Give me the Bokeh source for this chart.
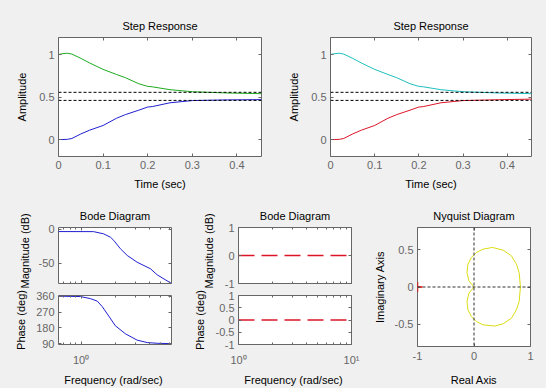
from bokeh.plotting import figure
from bokeh.models import (Range1d, FixedTicker, LinearAxis, LogAxis, Span, Title,
                          CustomJSTickFormatter, CustomLabelingPolicy)
from bokeh.layouts import row, column
from bokeh.embed import file_html
from bokeh.resources import INLINE

# ---------------- data ----------------
step_time = [0, 0.01, 0.02, 0.03, 0.05, 0.07, 0.1, 0.13, 0.15, 0.18, 0.2, 0.21, 0.25, 0.3, 0.38, 0.455]
step_green = [1.0, 1.01, 1.015, 1.005, 0.955, 0.90, 0.825, 0.765, 0.727, 0.656, 0.625, 0.62, 0.586, 0.562, 0.547, 0.539]
step_blue = [0.0, 0.0, 0.002, 0.012, 0.065, 0.11, 0.165, 0.25, 0.293, 0.345, 0.382, 0.387, 0.432, 0.458, 0.466, 0.469]
step_cyan = [1.0, 1.01, 1.015, 1.005, 0.955, 0.90, 0.825, 0.765, 0.727, 0.656, 0.625, 0.62, 0.586, 0.562, 0.547, 0.539]
step_red = [0.0, 0.0, 0.002, 0.012, 0.065, 0.11, 0.165, 0.25, 0.293, 0.345, 0.382, 0.387, 0.432, 0.458, 0.468, 0.475]
ss_upper = 0.555
ss_lower = 0.46
step_xticks = [0, 0.1, 0.2, 0.3, 0.4]
step_xlabels = ["0", "0.1", "0.2", "0.3", "0.4"]
step_yticks = [0, 0.5, 1]
step_ylabels = ["0", "0.5", "1"]

bode1_freq_mag = [0.631, 1.29, 1.58, 1.82, 1.95, 2.23, 2.56, 3.13, 4.11, 4.71, 6.31]
bode1_mag = [-3.5, -3.6, -6.8, -11.8, -16.7, -28.9, -38.7, -48.6, -58.3, -67.2, -80.0]
bode1_freq_phase = [0.631, 0.99, 1.21, 1.39, 1.54, 1.76, 2.01, 2.47, 3.13, 3.85, 4.71, 6.18, 6.31]
bode1_phase = [361, 359, 347, 333, 301, 247, 192, 146, 110, 96, 92, 90, 90]
bode1_xticks = [1]
bode1_xlabels = ["10\u2070"]
bode1_xminor = [0.7, 0.8, 0.9, 2, 3, 4, 5, 6]
bode1_magticks = [-50, 0]
bode1_maglabels = ["-50", "0"]
bode1_phaseticks = [90, 180, 270, 360]
bode1_phaselabels = ["90", "180", "270", "360"]

bode2_freq = [1, 10]
bode2_mag = [0, 0]
bode2_phase = [0, 0]
bode2_xticks = [1, 10]
bode2_xlabels = ["10\u2070", "10\u00b9"]
bode2_xminor = [2, 3, 4, 5, 6, 7, 8, 9]
bode2_magticks = [-1, 0, 1]
bode2_maglabels = ["-1", "0", "1"]
bode2_phaseticks = [-1, -0.5, 0, 0.5, 1]
bode2_phaselabels = ["-1", "-0.5", "0", "0.5", "1"]

nyq_real = [0.0, -0.089, -0.124, -0.107, -0.047, 0.041, 0.160, 0.325, 0.515, 0.663, 0.751, 0.799, 0.822,
            0.799, 0.751, 0.663, 0.515, 0.367, 0.160, 0.041, -0.047, -0.107, -0.124, -0.089, 0.0]
nyq_imag = [0.0, 0.081, 0.194, 0.306, 0.396, 0.464, 0.509, 0.532, 0.495, 0.419, 0.306, 0.194, 0.0,
            -0.194, -0.306, -0.419, -0.495, -0.525, -0.509, -0.464, -0.396, -0.306, -0.194, -0.081, 0.0]
crit_real = [-1]
crit_imag = [0]
nyq_xticks = [-1, 0, 1]
nyq_xlabels = ["-1", "0", "1"]
nyq_yticks = [-0.5, 0, 0.5]
nyq_ylabels = ["-0.5", "0", "0.5"]

# ---------------- style ----------------
BG = "#f0f0f0"
GREY = "#666666"
FONT = "Liberation Sans"
FS = "11px"


def fmt(tick_values, tick_labels):
    return CustomJSTickFormatter(args=dict(tvals=tick_values, tlabs=tick_labels),
                                 code="const i = tvals.indexOf(tick); return i >= 0 ? tlabs[i] : '';")


NO_LABELS = CustomLabelingPolicy(code="for (let i = 0; i < indices.size; i++) { indices.unset(i); } return indices;")
EMPTY_FMT = CustomJSTickFormatter(code="return '';")


def style_axis(ax, show_labels, standoff=4):
    ax.axis_line_color = None
    ax.major_tick_line_color = GREY
    ax.major_tick_in = 3
    ax.major_tick_out = 0
    ax.minor_tick_line_color = GREY
    ax.minor_tick_in = 2
    ax.minor_tick_out = 0
    ax.major_label_text_font = FONT
    ax.major_label_text_color = GREY
    ax.axis_label_text_font = FONT
    ax.axis_label_text_font_size = FS
    ax.axis_label_text_font_style = "normal"
    ax.axis_label_text_color = "black"
    if show_labels:
        ax.major_label_text_font_size = FS
        ax.major_label_standoff = standoff
    else:
        ax.formatter = EMPTY_FMT
        ax.major_label_policy = NO_LABELS
        ax.major_label_text_font_size = "0px"
        ax.major_label_standoff = 0


def make_fig(w, h, borders, xr, yr, xticks, xlabels, yticks, ylabels,
             x_log=False, xminor=None, title=None, title_standoff=8, show_x=True,
             xlabel=None, ylabel=None, xstand=6, ystand=8, xtick_standoff=4):
    bl, bt, br, bb = borders
    kw = {}
    if title is not None:
        kw["title"] = title
    p = figure(width=w, height=h, x_range=Range1d(*xr), y_range=Range1d(*yr),
               x_axis_type="log" if x_log else "linear",
               output_backend="svg", toolbar_location=None,
               min_border_left=bl, min_border_top=bt, min_border_right=br, min_border_bottom=bb,
               background_fill_color="white", border_fill_color=BG,
               outline_line_color=GREY, **kw)
    p.grid.visible = False
    if title is not None:
        p.title.align = "center"
        p.title.text_font = FONT
        p.title.text_font_size = FS
        p.title.text_font_style = "normal"
        p.title.text_color = "black"
        p.title.standoff = title_standoff
    xt = FixedTicker(ticks=xticks, minor_ticks=xminor or [])
    yt = FixedTicker(ticks=yticks, minor_ticks=[])
    bx = p.xaxis[0]
    bx.ticker = xt
    bx.formatter = fmt(xticks, xlabels)
    style_axis(bx, show_x, xtick_standoff)
    if xlabel:
        bx.axis_label = xlabel
        bx.axis_label_standoff = xstand
    ly = p.yaxis[0]
    ly.ticker = yt
    ly.formatter = fmt(yticks, ylabels)
    style_axis(ly, True)
    if ylabel:
        ly.axis_label = ylabel
        ly.axis_label_standoff = ystand
    top = LogAxis(ticker=xt) if x_log else LinearAxis(ticker=xt)
    style_axis(top, False)
    p.add_layout(top, "above")
    right = LinearAxis(ticker=yt)
    style_axis(right, False)
    p.add_layout(right, "right")
    return p


def side_label(p, text, standoff, offset):
    t = Title(text=text, align="left", offset=offset, standoff=standoff,
              text_font=FONT, text_font_size=FS, text_font_style="normal",
              text_color="black")
    p.add_layout(t, "left")


GREEN = "#1faa1f"
BLUE = "#1f1fd0"
CYAN = "#20bebe"
RED = "#dc1428"
YELLOW = "#dcdc14"

# ---------------- top row: step responses ----------------
step_figs = []
for (bl, br, w, c1, y1, c2, y2) in [(58, 24, 285, GREEN, step_green, BLUE, step_blue),
                                    (43, 15, 261, CYAN, step_cyan, RED, step_red)]:
    p = make_fig(w, 200, (bl, 37, br, 44), (0, 0.455), (-0.2, 1.2),
                 step_xticks, step_xlabels, step_yticks, step_ylabels,
                 title="Step Response", title_standoff=11,
                 xlabel="Time (sec)", ylabel="Amplitude", xstand=6, ystand=8)
    p.line(step_time, y1, line_color=c1, line_width=1)
    p.line(step_time, y2, line_color=c2, line_width=1)
    for loc in (ss_upper, ss_lower):
        p.add_layout(Span(location=loc, dimension="width", line_color="black",
                          line_dash="3 2", line_width=1))
    step_figs.append(p)

# ---------------- bottom left: Bode 1 ----------------
c_mag = make_fig(190, 89, (58, 27, 19, 6), (0.631, 6.31), (-80, 2.5),
                 bode1_xticks, bode1_xlabels, bode1_magticks, bode1_maglabels,
                 x_log=True, xminor=bode1_xminor, title="Bode Diagram", title_standoff=11,
                 show_x=False)
c_mag.line(bode1_freq_mag, bode1_mag, line_color=BLUE, line_width=1)
side_label(c_mag, "Magnitude (dB)", 9, -5)
c_ph = make_fig(190, 99, (58, 6, 19, 42), (0.631, 6.31), (85, 365),
                bode1_xticks, bode1_xlabels, bode1_phaseticks, bode1_phaselabels,
                x_log=True, xminor=bode1_xminor, xlabel="Frequency  (rad/sec)",
                ylabel="Phase (deg)", xstand=5, ystand=6, xtick_standoff=9)
c_ph.line(bode1_freq_phase, bode1_phase, line_color=BLUE, line_width=1)

# ---------------- bottom middle: Bode 2 ----------------
d_mag = make_fig(175, 89, (48, 27, 14, 6), (1, 10), (-1, 1),
                 bode2_xticks, bode2_xlabels, bode2_magticks, bode2_maglabels,
                 x_log=True, xminor=bode2_xminor, title="Bode Diagram", title_standoff=11,
                 show_x=False)
d_mag.line(bode2_freq, bode2_mag, line_color=RED, line_width=1.3, line_dash="16 7")
side_label(d_mag, "Magnitude (dB)", 13, -5)
d_ph = make_fig(175, 99, (48, 6, 14, 42), (1, 10), (-1, 1),
                bode2_xticks, bode2_xlabels, bode2_phaseticks, bode2_phaselabels,
                x_log=True, xminor=bode2_xminor, xlabel="Frequency  (rad/sec)",
                ylabel="Phase (deg)", xstand=5, ystand=7, xtick_standoff=9)
d_ph.line(bode2_freq, bode2_phase, line_color=RED, line_width=1.3, line_dash="16 7")

# ---------------- bottom right: Nyquist ----------------
e = make_fig(181, 188, (52, 27, 16, 42), (-1, 1), (-0.8, 0.8),
             nyq_xticks, nyq_xlabels, nyq_yticks, nyq_ylabels,
             title="Nyquist Diagram", title_standoff=11,
             xlabel="Real Axis", ylabel="Imaginary Axis", xstand=11, ystand=6,
             xtick_standoff=5)
for dim in ("width", "height"):
    e.add_layout(Span(location=0, dimension=dim, line_color="#333333",
                      line_dash="3 2", line_width=1))
e.line(nyq_real, nyq_imag, line_color=YELLOW, line_width=1)
e.scatter(crit_real, crit_imag, marker="cross", size=10, line_color="red", line_width=1.5)

layout = column(row(*step_figs), row(column(c_mag, c_ph), column(d_mag, d_ph), e))

html = file_html(layout, INLINE)
html = html.replace("<head>", "<head><style>html,body{background:#f0f0f0;}</style>", 1)
open("out.html", "w").write(html)
